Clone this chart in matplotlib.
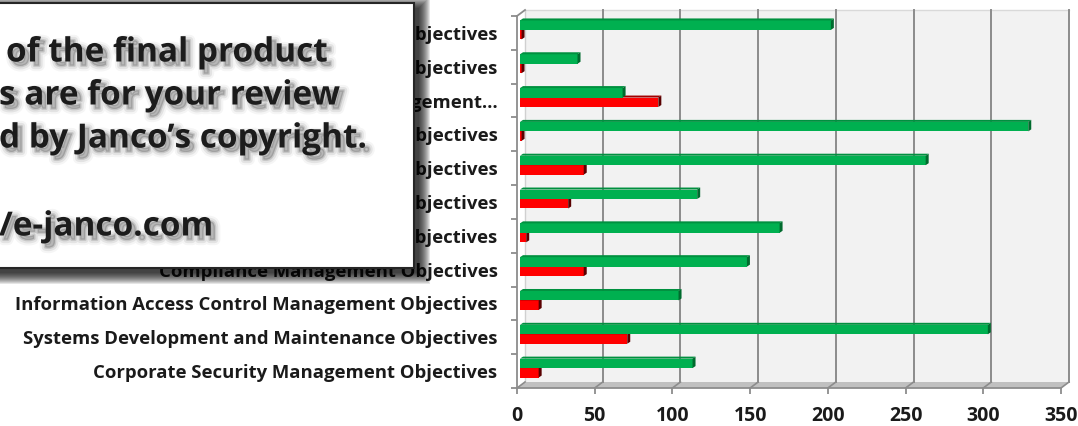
import numpy as np
import matplotlib.pyplot as plt
from matplotlib.patches import Rectangle, Polygon
import matplotlib.patheffects as pe

# categories listed bottom -> top (as the bars are drawn)
categories = [
    "Corporate Security Management Objectives",
    "Systems Development and Maintenance Objectives",
    "Information Access Control Management Objectives",
    "Compliance Management Objectives",
    "Business Continuity Management Objectives",
    "Operations Management Objectives",
    "Physical and Environmental Security Objectives",
    "Personnel Security Objectives",
    "Asset Classification and Control Management\u2026",
    "Organizational Security Objectives",
    "Security Policy Objectives",
]
green_vals = [111, 301, 102, 146, 167, 114, 261, 327, 66, 37, 200]
red_vals = [12, 69, 12, 41, 4, 31, 41, 1, 89, 1, 1]
xticks = [0, 50, 100, 150, 200, 250, 300, 350]

W, H = 1078, 426


def fx(p):
    return p / W


def fy(p):
    # pixel from top -> figure fraction
    return 1 - p / H


plt.rcParams['font.family'] = ['Open Sans', 'DejaVu Sans']
plt.rcParams['font.weight'] = 'bold'

fig = plt.figure(figsize=(W / 100, H / 100), dpi=100)
fig.patch.set_facecolor('white')

# front plane of the plot box
x_left, x_right, y_top, y_bot = 517, 1061, 16, 388
ax = fig.add_axes([fx(x_left), fy(y_bot), (x_right - x_left) / W, (y_bot - y_top) / H])
ax.set_xlim(0, 350)
ax.set_ylim(-0.5, 10.5)
ax.set_facecolor('none')

ux = 350 / (x_right - x_left)   # data units per pixel (x)
uy = 11 / (y_bot - y_top)       # data units per pixel (y)
wdx, wdy = 8 * ux, 6 * uy       # back wall offset
bdx, bdy = 3 * ux, 3 * uy       # bar plane offset
fdx, fdy = 3 * ux, 2 * uy       # bar depth faces

grid_c = '#8c8c8c'

# back wall + floor
ax.add_patch(Rectangle((wdx, -0.5 + wdy), 350, 11, facecolor='#f2f2f2',
                       edgecolor='none', zorder=0, clip_on=False))
ax.plot([wdx, 350 + wdx], [10.5 + wdy, 10.5 + wdy], color='#d9d9d9', lw=1, zorder=0.5, clip_on=False)
ax.add_patch(Polygon([(0, -0.5), (350, -0.5), (350 + wdx, -0.5 + wdy), (wdx, -0.5 + wdy)],
                     closed=True, facecolor='#c0c0c0', edgecolor='none', zorder=0.4, clip_on=False))
for v in xticks[1:]:
    ax.plot([v + wdx, v + wdx], [-0.5 + wdy, 10.5 + wdy], color=grid_c, lw=1.4, zorder=0.6, clip_on=False)
    ax.plot([v, v + wdx], [-0.5, -0.5 + wdy], color=grid_c, lw=1.2, zorder=0.6, clip_on=False)
ax.plot([wdx, wdx], [-0.5 + wdy, 10.5 + wdy], color='#d0d0d0', lw=1, zorder=0.6, clip_on=False)
ax.plot([0, wdx], [10.5, 10.5 + wdy], color=grid_c, lw=1.3, zorder=0.6, clip_on=False)
ax.plot([0, wdx], [-0.5, -0.5 + wdy], color=grid_c, lw=1.2, zorder=0.6, clip_on=False)

# bars with a bit of 3D depth
bh = 0.28
series = [(red_vals, -1, '#ff0000', '#a00000', '#5a0000'),
          (green_vals, 1, '#00b050', '#00903f', '#006b2e')]
y = np.arange(len(categories))
for vals, side, face, top, end in series:
    yc = y + bdy + side * bh / 2
    ax.barh(yc, vals, height=bh, left=bdx, color=face, edgecolor='none', zorder=2)
    for yi, v in zip(yc, vals):
        y0, y1 = yi - bh / 2, yi + bh / 2
        x1 = bdx + v
        ax.add_patch(Polygon([(bdx, y1), (x1, y1), (x1 + fdx, y1 + fdy), (bdx + fdx, y1 + fdy)],
                             closed=True, facecolor=top, edgecolor='none', zorder=2))
        ax.add_patch(Polygon([(x1, y0), (x1, y1), (x1 + fdx, y1 + fdy), (x1 + fdx, y0 + fdy)],
                             closed=True, facecolor=end, edgecolor='none', zorder=2))

# axes, ticks, labels
for s in ['top', 'right']:
    ax.spines[s].set_visible(False)
for s in ['left', 'bottom']:
    ax.spines[s].set_color(grid_c)
    ax.spines[s].set_linewidth(1.3)
ax.set_xticks(xticks)
ax.set_xticklabels([str(v) for v in xticks])
ax.set_yticks(y)
ax.set_yticklabels(categories)
ax.set_yticks(np.arange(-0.5, 11, 1), minor=True)
ax.tick_params(axis='y', which='major', length=0, pad=14, labelsize=13.3, labelcolor='#1a1a1a')
ax.tick_params(axis='y', which='minor', length=4, width=1.3, color=grid_c)
ax.tick_params(axis='x', length=4, width=1.3, color=grid_c, pad=9, labelsize=14, labelcolor='#1a1a1a')

# watermark box over the labels
bx0, bx1, by0, by1 = -20, 414, 3, 268
for k in range(12):
    fig.add_artist(Rectangle((fx(bx0 + 5 - k), fy(by1 + 5 + k)),
                             (bx1 - bx0 + 2 * k) / W, (by1 - by0 + 2 * k) / H,
                             transform=fig.transFigure, facecolor='black',
                             edgecolor='none', alpha=0.1, zorder=5))
fig.add_artist(Rectangle((fx(bx0), fy(by1)), (bx1 - bx0) / W, (by1 - by0) / H,
                         transform=fig.transFigure, facecolor='white',
                         edgecolor='#262626', lw=1.5, zorder=6))

shadow = [pe.Stroke(linewidth=8, foreground='black', alpha=0.04, offset=(3, -3)),
          pe.Stroke(linewidth=5, foreground='black', alpha=0.07, offset=(3, -3)),
          pe.Stroke(linewidth=2, foreground='black', alpha=0.12, offset=(3, -3)),
          pe.Normal()]
# only the part of each line that shows inside the picture
lines = [("of the final product", 6, 53),
         ("s are for your review", -1, 96),
         ("d by Janco\u2019s copyright.", -1, 139),
         ("/e-janco.com", -1, 227)]
for txt, xl, yc in lines:
    fig.text(fx(xl), fy(yc), txt, ha='left', va='center', fontsize=24,
             family=['Open Sans', 'DejaVu Sans'], weight='bold', color='#1c1c1c',
             path_effects=shadow, zorder=7)

fig.savefig('out.png', dpi=100)
